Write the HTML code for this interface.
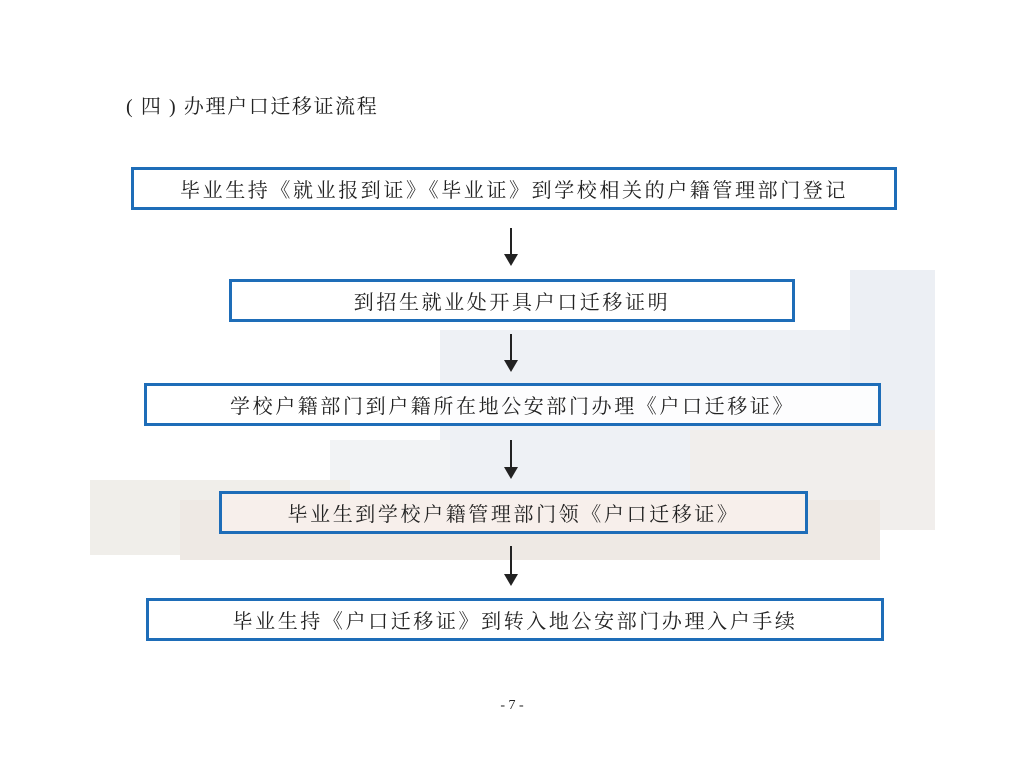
<!DOCTYPE html>
<html><head><meta charset="utf-8"><style>
body{margin:0;width:1024px;height:778px;background:#fff;position:relative;overflow:hidden;font-family:"Liberation Serif","Noto Serif CJK SC",serif;color:#222}
.bg{position:absolute}
.box{position:absolute;border:3px solid #1e6db8;box-sizing:border-box;background:rgba(255,255,255,0.85);display:flex;align-items:center;justify-content:center;font-size:20px;letter-spacing:2.6px}
.ar{position:absolute;left:510px;width:2px;background:#222}
.ar:after{content:"";position:absolute;left:-6px;bottom:-2px;border-left:7px solid transparent;border-right:7px solid transparent;border-top:12px solid #222}
</style></head><body>
<div style="position:absolute;left:126px;top:90px;font-size:20px;letter-spacing:1.6px">( 四 ) 办理户口迁移证流程</div>
<div class="bg" style="left:440px;top:330px;width:470px;height:200px;background:#eef1f5"></div>
<div class="bg" style="left:850px;top:270px;width:85px;height:260px;background:#eceff4"></div>
<div class="bg" style="left:690px;top:430px;width:245px;height:100px;background:#f1eeec"></div>
<div class="bg" style="left:330px;top:440px;width:120px;height:90px;background:#f2f3f5"></div>
<div class="bg" style="left:90px;top:480px;width:260px;height:75px;background:#f0eeea"></div>
<div class="bg" style="left:180px;top:500px;width:700px;height:60px;background:#eee9e4"></div>

<div class="box" style="left:131px;top:167px;width:766px;height:43px">毕业生持《就业报到证》《毕业证》到学校相关的户籍管理部门登记</div>
<div class="ar" style="top:228px;height:36px"></div>
<div class="box" style="left:229px;top:279px;width:566px;height:43px">到招生就业处开具户口迁移证明</div>
<div class="ar" style="top:334px;height:36px"></div>
<div class="box" style="left:144px;top:383px;width:737px;height:43px">学校户籍部门到户籍所在地公安部门办理《户口迁移证》</div>
<div class="ar" style="top:440px;height:37px"></div>
<div class="box" style="left:219px;top:491px;width:589px;height:43px;background:rgba(248,240,236,0.85)">毕业生到学校户籍管理部门领《户口迁移证》</div>
<div class="ar" style="top:546px;height:38px"></div>
<div class="box" style="left:146px;top:598px;width:738px;height:43px">毕业生持《户口迁移证》到转入地公安部门办理入户手续</div>
<div style="position:absolute;left:0;width:1024px;top:698px;text-align:center;font-size:14px">- 7 -</div>
</body></html>
